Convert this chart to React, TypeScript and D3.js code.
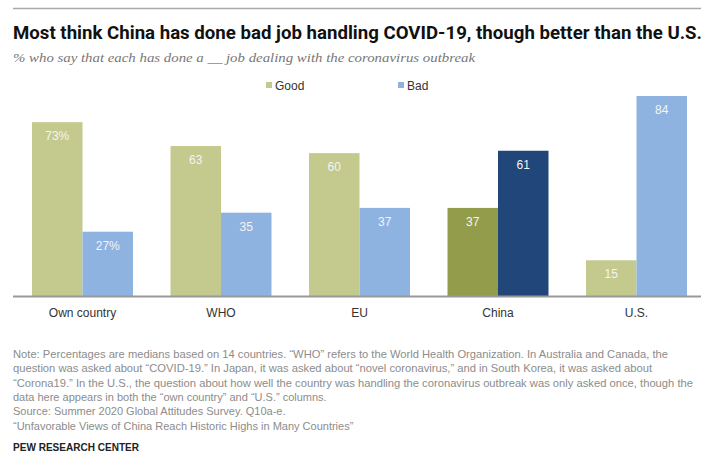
import React from "react";
import * as d3 from "d3";

const categories = ["Own country", "WHO", "EU", "China", "U.S."];
const seriesNames = ["Good", "Bad"];
const goodValues = [73, 63, 60, 37, 15];
const badValues = [27, 35, 37, 61, 84];
const highlightCategory = "China";

const titleText = "Most think China has done bad job handling COVID-19, though better than the U.S.";
const subtitleText = "% who say that each has done a __ job dealing with the coronavirus outbreak";
const noteLines = [
  "Note: Percentages are medians based on 14 countries. \u201cWHO\u201d refers to the World Health Organization. In Australia and Canada, the",
  "question was asked about \u201cCOVID-19.\u201d In Japan, it was asked about \u201cnovel coronavirus,\u201d and in South Korea, it was asked about",
  "\u201cCorona19.\u201d In the U.S., the question about how well the country was handling the coronavirus outbreak was only asked once, though the",
  "data here appears in both the \u201cown country\u201d and \u201cU.S.\u201d columns.",
  "Source: Summer 2020 Global Attitudes Survey. Q10a-e.",
  "\u201cUnfavorable Views of China Reach Historic Highs in Many Countries\u201d",
];
const noteLengths = [655, 639, 680, 0, 0, 0];
const creditText = "PEW RESEARCH CENTER";

const W = 701;
const H = 457;
const baselineY = 296;

const colors = {
  Good: "#c4c98d",
  Bad: "#8fb3e0",
  GoodHi: "#939c4b",
  BadHi: "#21477a",
};

export default function App() {
  const x = d3
    .scaleBand<string>()
    .domain(categories)
    .range([13.25, 705.75])
    .paddingInner(0.2708)
    .paddingOuter(0.1354);
  const xs = d3.scaleBand<string>().domain(seriesNames).range([0, x.bandwidth()]);
  const y = d3.scaleLinear().domain([0, 84]).range([baselineY, 96]);

  const bars: any[] = [];
  categories.forEach((c, i) => {
    const vals = [goodValues[i], badValues[i]];
    seriesNames.forEach((s, j) => {
      const v = vals[j];
      const hi = c === highlightCategory;
      const fill = hi ? (s === "Good" ? colors.GoodHi : colors.BadHi) : (colors as any)[s];
      const bx = (x(c) as number) + (xs(s) as number);
      const label = i === 0 ? `${v}%` : `${v}`;
      bars.push(
        <g key={c + s}>
          <rect x={bx} y={y(v)} width={xs.bandwidth()} height={baselineY - y(v)} fill={fill} />
          <text
            x={bx + xs.bandwidth() / 2}
            y={y(v) + 18}
            textAnchor="middle"
            fontSize={12}
            fill="#f4f4f4"
            fontFamily="Arial, 'Liberation Sans', sans-serif"
          >
            {label}
          </text>
        </g>
      );
    });
  });

  const font = "'Liberation Sans', Arial, sans-serif";

  return (
    <svg
      width={W}
      height={H}
      style={{ position: "absolute", left: 0, top: 0, background: "#fff" }}
    >
      <rect width={W} height={H} fill="#fff" />
      <line x1={13} x2={W} y1={8.5} y2={8.5} stroke="#aaa" strokeWidth={1.5} />
      <text
        x={13}
        y={39}
        fontFamily="Roboto, 'Liberation Sans', sans-serif"
        fontWeight={700}
        fontSize={18}
        fill="#111"
        textLength={689}
        lengthAdjust="spacingAndGlyphs"
      >
        {titleText}
      </text>
      <text
        x={13}
        y={62}
        fontFamily="'Liberation Serif', Georgia, serif"
        fontStyle="italic"
        fontSize={13}
        fill="#777"
        textLength={462}
        lengthAdjust="spacingAndGlyphs"
      >
        {subtitleText}
      </text>

      {/* legend */}
      {seriesNames.map((s, i) => {
        const lx = [266, 398][i];
        return (
          <g key={s}>
            <rect x={lx} y={82} width={6} height={6} fill={(colors as any)[s]} />
            <text x={lx + 9} y={89.5} fontSize={12} fill="#333" fontFamily={font}>
              {s}
            </text>
          </g>
        );
      })}

      {bars}

      <line x1={13} x2={W} y1={baselineY + 0.5} y2={baselineY + 0.5} stroke="#999" strokeWidth={2} />

      {categories.map((c) => (
        <text
          key={c}
          x={(x(c) as number) + x.bandwidth() / 2}
          y={317}
          textAnchor="middle"
          fontSize={12}
          fill="#333"
          fontFamily={font}
        >
          {c}
        </text>
      ))}

      {noteLines.map((t, i) => (
        <text
          key={i}
          x={13}
          y={358 + i * 14.3}
          fontSize={11}
          fill="#8c8c8c"
          fontFamily={font}
          {...(noteLengths[i] ? { textLength: noteLengths[i], lengthAdjust: "spacingAndGlyphs" } : {})}
        >
          {t}
        </text>
      ))}
      <text
        x={13}
        y={451}
        fontSize={11}
        fontWeight={700}
        fill="#222"
        fontFamily={font}
        textLength={126}
        lengthAdjust="spacingAndGlyphs"
      >
        {creditText}
      </text>
    </svg>
  );
}
